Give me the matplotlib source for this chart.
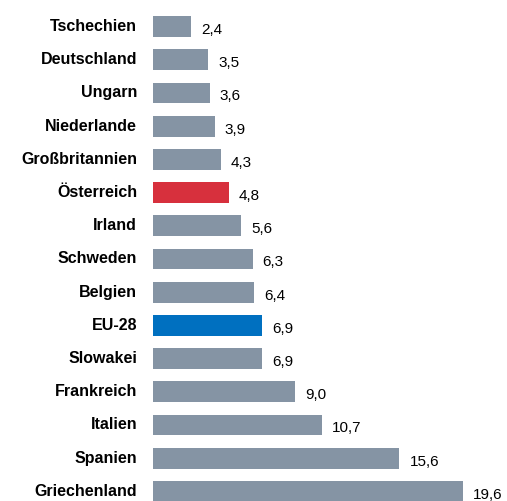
import matplotlib
matplotlib.use('Agg')
import matplotlib.pyplot as plt

plt.rcParams['font.family'] = ['Liberation Sans', 'DejaVu Sans']

laender = ['Tschechien', 'Deutschland', 'Ungarn', 'Niederlande', 'Großbritannien',
           'Österreich', 'Irland', 'Schweden', 'Belgien', 'EU-28', 'Slowakei',
           'Frankreich', 'Italien', 'Spanien', 'Griechenland']
werte = [2.4, 3.5, 3.6, 3.9, 4.3, 4.8, 5.6, 6.3, 6.4, 6.9, 6.9, 9.0, 10.7, 15.6, 19.6]

grau = '#8594A4'
farben = []
for land in laender:
    if land == 'Österreich':
        farben.append('#D7303D')
    elif land == 'EU-28':
        farben.append('#0070C0')
    else:
        farben.append(grau)

fig = plt.figure(figsize=(5.07, 5.01), dpi=100)
ax = fig.add_axes([153 / 507, 0, 354 / 507, 1])

pos = list(range(len(laender)))
ax.barh(pos, werte, height=0.63, color=farben)

ax.set_xlim(0, 354 / 15.8)
ax.set_ylim(14.29, -0.80)

for i, w in enumerate(werte):
    ax.annotate(f'{w:.1f}'.replace('.', ','), (w, i), xytext=(10, -3.5),
                textcoords='offset pixels', ha='left', va='center', fontsize=11)
    ax.annotate(laender[i], (0, i), xytext=(-16, 0), textcoords='offset pixels',
                ha='right', va='center', fontsize=11.5, fontweight='bold',
                annotation_clip=False)

ax.axis('off')
fig.savefig('out.png', dpi=100)
